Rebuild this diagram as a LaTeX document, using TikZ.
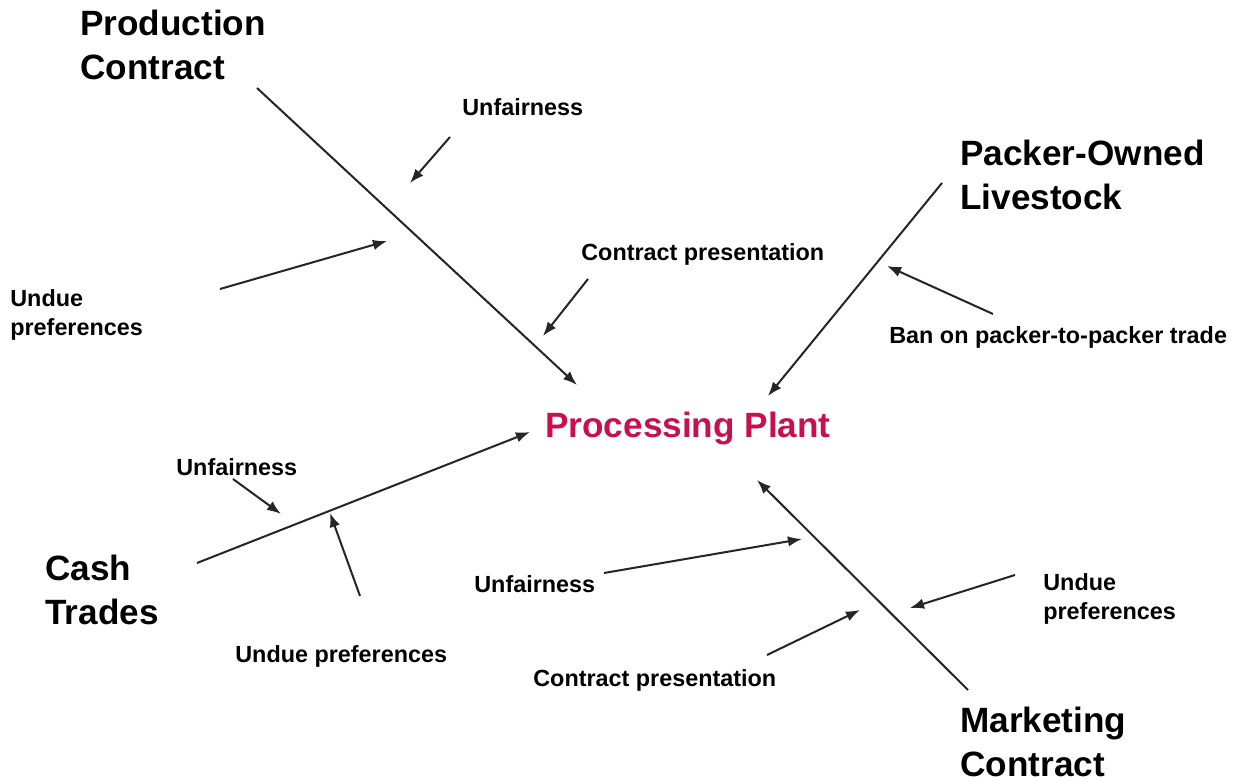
\documentclass[tikz,border=0pt]{standalone}
\usepackage{fontspec}
\setmainfont{Liberation Sans}
\usetikzlibrary{arrows.meta}
\definecolor{plantred}{RGB}{200,16,78}
\tikzset{
  big/.style={font=\fontsize{20}{25}\selectfont\bfseries, align=left, inner sep=0pt, anchor=west},
  small/.style={font=\fontsize{13.3}{16}\selectfont\bfseries, align=left, inner sep=0pt, anchor=west},
  spine/.style={-{Latex[length=8pt,width=6pt]}, line width=1.15pt, black!85},
}
\begin{document}
\begin{tikzpicture}[x=0.2mm,y=-0.2mm]
\useasboundingbox (0,0) rectangle (1245,782);
% labels
\node[big] (prod) at (80,45) {Production\\Contract};
\node[big] (pack) at (960,175) {Packer-Owned\\Livestock};
\node[big] (cash) at (45,590) {Cash\\Trades};
\node[big] (mark) at (960,742) {Marketing\\Contract};
\node[font=\fontsize{20}{25}\selectfont\bfseries, text=plantred, inner sep=0pt, anchor=west] (plant) at (545,428) {Processing Plant};
\node[small] (unfA) at (462,107) {Unfairness};
\node[small] (presA) at (581,254) {Contract presentation};
\node[small] (undA) at (10,315) {Undue\\preferences};
\node[small] (ban) at (889,337) {Ban on packer-to-packer trade};
\node[small] (unfB) at (176,467) {Unfairness};
\node[small] (undB) at (235,656) {Undue preferences};
\node[small] (unfC) at (474,584) {Unfairness};
\node[small] (presC) at (533,680) {Contract presentation};
\node[small] (undC) at (1043,599) {Undue\\preferences};
% ends of the arrows
\coordinate (p1) at (257,88);   \coordinate (p2) at (577,385);
\coordinate (k1) at (942,183);  \coordinate (k2) at (768,396);
\coordinate (c1) at (197,563);  \coordinate (c2) at (530,432);
\coordinate (m1) at (968,690);  \coordinate (m2) at (757,480);
\coordinate (a1) at (450,137);  \coordinate (a2) at (410,183);
\coordinate (b1) at (220,289);  \coordinate (b2) at (387,241);
\coordinate (d1) at (588,279);  \coordinate (d2) at (543,336);
\coordinate (e1) at (993,314);  \coordinate (e2) at (887,266);
\coordinate (f1) at (233,479);  \coordinate (f2) at (281,514);
\coordinate (g1) at (360,596);  \coordinate (g2) at (330,513);
\coordinate (h1) at (604,573);  \coordinate (h2) at (802,539);
\coordinate (i1) at (767,655);  \coordinate (i2) at (860,610);
\coordinate (j1) at (1015,575); \coordinate (j2) at (910,608);
% spines
\draw[spine] (p1) -- (p2);
\draw[spine] (k1) -- (k2);
\draw[spine] (c1) -- (c2);
\draw[spine] (m1) -- (m2);
% causes
\draw[spine] (a1) -- (a2);
\draw[spine] (b1) -- (b2);
\draw[spine] (d1) -- (d2);
\draw[spine] (e1) -- (e2);
\draw[spine] (f1) -- (f2);
\draw[spine] (g1) -- (g2);
\draw[spine] (h1) -- (h2);
\draw[spine] (i1) -- (i2);
\draw[spine] (j1) -- (j2);
\end{tikzpicture}
\end{document}
